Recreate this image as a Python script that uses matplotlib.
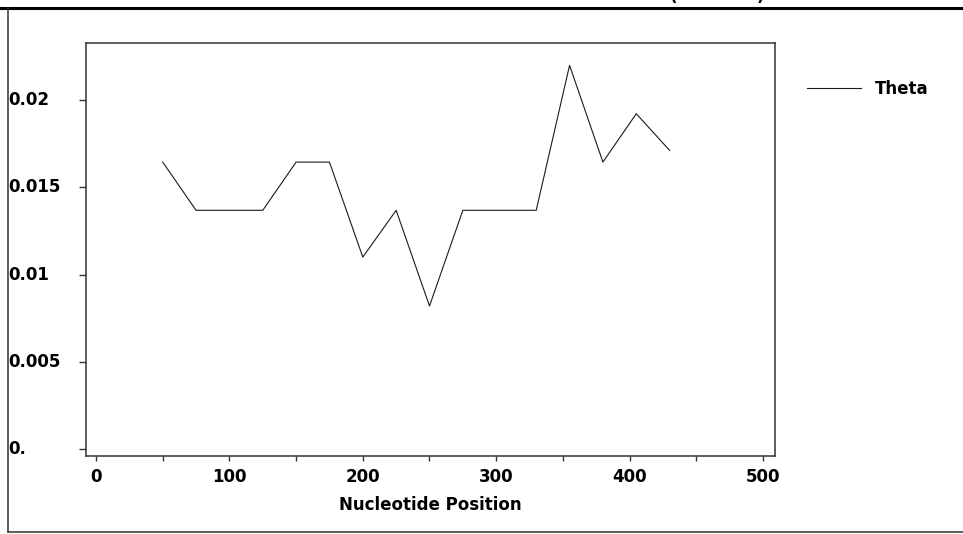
import matplotlib
matplotlib.use("Agg")
import matplotlib.pyplot as plt
import matplotlib.transforms as mtransforms
from matplotlib.lines import Line2D

# sliding-window theta along the sequence
positions = [50, 75, 100, 125, 150, 175, 200, 225, 250, 275, 300, 330, 355, 380, 405, 430]
theta = [0.01645, 0.01369, 0.01369, 0.01369, 0.01645, 0.01645, 0.01101, 0.01369,
         0.00821, 0.01369, 0.01369, 0.01369, 0.02199, 0.01645, 0.01922, 0.01712]

x_major = [0, 100, 200, 300, 400, 500]
x_minor = [50, 150, 250, 350, 450]
y_ticks = [0.0, 0.005, 0.01, 0.015, 0.02]
y_labels = ["0.", "0.005", "0.01", "0.015", "0.02"]

W, H = 963, 534
INK = "#1a1a1a"
FRAME = "#333333"

plt.rcParams["font.family"] = "DejaVu Sans"
plt.rcParams["font.weight"] = "bold"

fig = plt.figure(figsize=(W / 100, H / 100), dpi=100, facecolor="white")
ax = fig.add_axes([86 / W, 1 - 456 / H, (775 - 86) / W, (456 - 43) / H])

line, = ax.plot(positions, theta, color=INK, linewidth=0.8, label="Theta")

ax.set_xlim(-7.5, 509)
ax.set_ylim(-0.00038, 0.02327)

for s in ax.spines.values():
    s.set_color(FRAME)
    s.set_linewidth(1.1)

ax.set_xticks(x_major)
ax.set_xticks(x_minor, minor=True)
ax.set_xticklabels([str(v) for v in x_major], fontsize=12, fontweight="bold")
ax.tick_params(axis="x", which="both", direction="out", length=3.5, width=1.0,
               color=FRAME, pad=5)

# y labels sit flush against the outer frame, left aligned
ax.set_yticks(y_ticks)
ax.set_yticklabels([])
ax.tick_params(axis="y", direction="out", length=5, width=1.0, color=FRAME)
ytrans = mtransforms.blended_transform_factory(fig.transFigure, ax.transData)
for v, lab in zip(y_ticks, y_labels):
    fig.text(8 / W, v, lab, transform=ytrans, ha="left", va="center",
             fontsize=12, fontweight="bold", color="black")

ax.set_xlabel("Nucleotide Position", fontsize=12, fontweight="bold", va="center")
ax.xaxis.set_label_coords(0.5, -0.1186)

leg = fig.legend(handles=[line], labels=["Theta"], loc="center left",
                 bbox_to_anchor=(807 / W, 1 - 89 / H), bbox_transform=fig.transFigure,
                 frameon=False, borderpad=0, borderaxespad=0,
                 handlelength=3.25, handletextpad=0.85,
                 prop={"size": 12, "weight": "bold"})

# outer chart frame (cropped at right and top)
fig.add_artist(Line2D([0, 1], [1 - 8 / H, 1 - 8 / H], transform=fig.transFigure,
                      color="black", linewidth=2.2))
fig.add_artist(Line2D([8 / W, 8 / W], [1 - 8 / H, 1 - 532 / H], transform=fig.transFigure,
                      color=FRAME, linewidth=1.1))
fig.add_artist(Line2D([8 / W, 1], [1 - 532 / H, 1 - 532 / H], transform=fig.transFigure,
                      color=FRAME, linewidth=1.1))

# bits of the title cut off by the top edge
fig.text(670 / W, 1 - 1 / H, "(", ha="left", va="baseline", fontsize=12, fontweight="bold")
fig.text(757 / W, 1 - 1 / H, ")", ha="left", va="baseline", fontsize=12, fontweight="bold")

fig.savefig("out.png", dpi=100, facecolor="white")
